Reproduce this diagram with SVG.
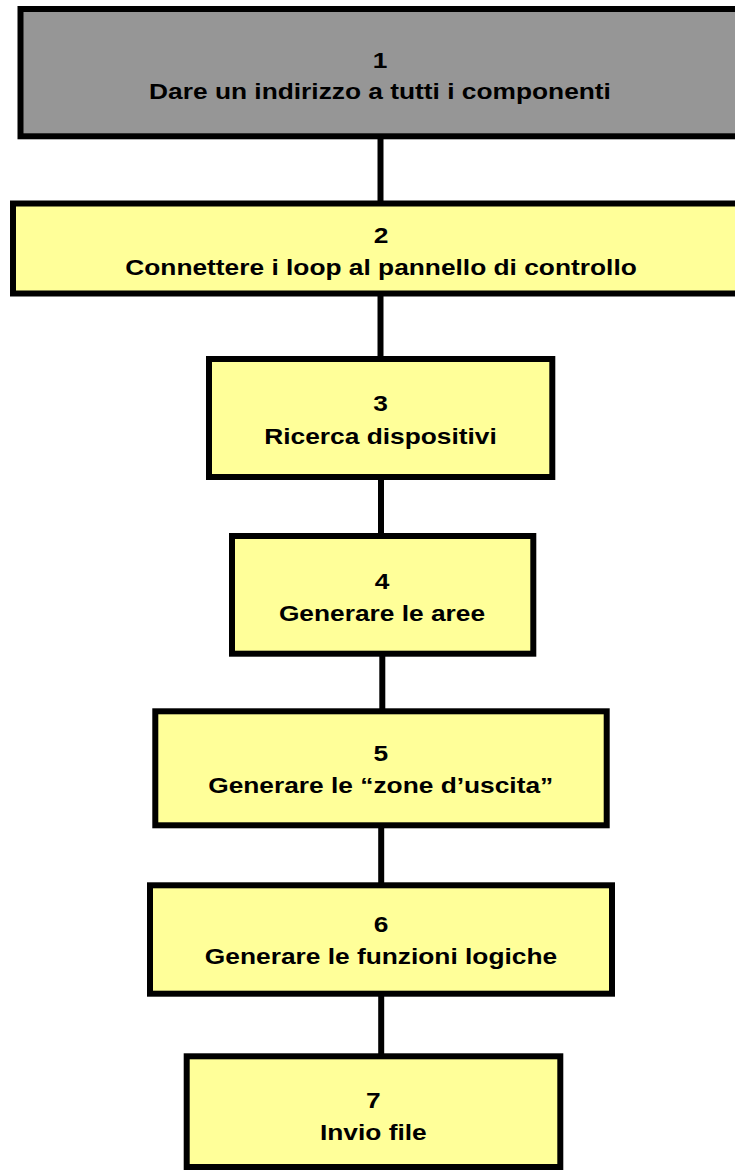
<svg xmlns="http://www.w3.org/2000/svg" width="735" height="1171" viewBox="0 0 735 1171">
<style>
.box{stroke:#000;stroke-width:6}
.g{fill:#969696}
.y{fill:#FFFF99}
.t{font-family:"Liberation Sans",Arial,sans-serif;font-weight:bold;font-size:22.5px;fill:#000;text-anchor:middle}
.c{stroke:#000;stroke-width:6;fill:none}
</style>
<rect width="735" height="1171" fill="#fff"/>
<g id="connectors">
<line class="c" x1="380.5" y1="136" x2="380.5" y2="204"/>
<line class="c" x1="380.5" y1="293" x2="380.5" y2="359"/>
<line class="c" x1="381" y1="477" x2="381" y2="536"/>
<line class="c" x1="382.3" y1="653" x2="382.3" y2="711"/>
<line class="c" x1="381.2" y1="825" x2="381.2" y2="885"/>
<line class="c" x1="381.2" y1="993" x2="381.2" y2="1056"/>
</g>
<g id="node1">
<rect class="box g" x="20.5" y="9" width="719" height="127.3"/>
<text class="t" transform="matrix(1.17,0,0,1,380,0)"><tspan x="0" y="68">1</tspan><tspan x="0" y="99.5">Dare un indirizzo a tutti i componenti</tspan></text>
</g>
<g id="node2">
<rect class="box y" x="13" y="203.5" width="734" height="90"/>
<text class="t" transform="matrix(1.17,0,0,1,381,0)"><tspan x="0" y="243">2</tspan><tspan x="0" y="275">Connettere i loop al pannello di controllo</tspan></text>
</g>
<g id="node3">
<rect class="box y" x="209" y="359" width="343.3" height="118"/>
<text class="t" transform="matrix(1.17,0,0,1,380.5,0)"><tspan x="0" y="411.5">3</tspan><tspan x="0" y="444">Ricerca dispositivi</tspan></text>
</g>
<g id="node4">
<rect class="box y" x="232" y="536" width="301.3" height="117.7"/>
<text class="t" transform="matrix(1.17,0,0,1,382,0)"><tspan x="0" y="589.3">4</tspan><tspan x="0" y="621">Generare le aree</tspan></text>
</g>
<g id="node5">
<rect class="box y" x="155.3" y="711.3" width="451.4" height="114"/>
<text class="t" transform="matrix(1.17,0,0,1,380.7,0)"><tspan x="0" y="761.3">5</tspan><tspan x="0" y="793.3">Generare le “zone d’uscita”</tspan></text>
</g>
<g id="node6">
<rect class="box y" x="150" y="885.3" width="462" height="108.4"/>
<text class="t" transform="matrix(1.17,0,0,1,381,0)"><tspan x="0" y="932">6</tspan><tspan x="0" y="964">Generare le funzioni logiche</tspan></text>
</g>
<g id="node7">
<rect class="box y" x="186.7" y="1056.3" width="373.6" height="110.7"/>
<text class="t" transform="matrix(1.17,0,0,1,373.3,0)"><tspan x="0" y="1108">7</tspan><tspan x="0" y="1140.5">Invio file</tspan></text>
</g>
</svg>
